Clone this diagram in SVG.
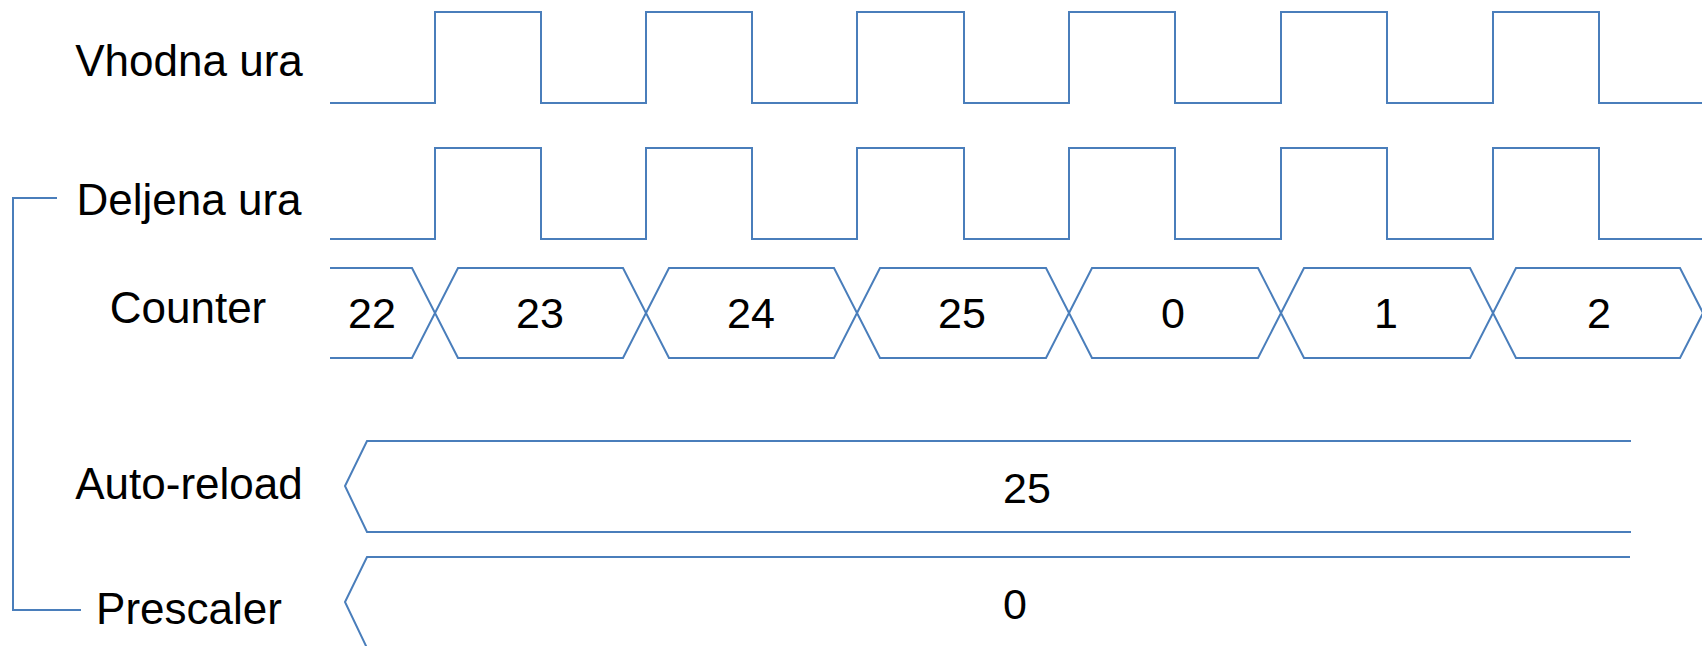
<svg xmlns="http://www.w3.org/2000/svg" width="1702" height="646" viewBox="0 0 1702 646">
<style>
.w{fill:none;stroke:#4A7EBB;stroke-width:2;stroke-linejoin:miter}
.lbl{font-family:"Liberation Sans",Arial,sans-serif;font-size:44px;fill:#000;text-anchor:middle}
.val{font-family:"Liberation Sans",Arial,sans-serif;font-size:43px;fill:#000;text-anchor:middle}
</style>
<rect width="1702" height="646" fill="#fff"/>
<g id="vhodna-ura">
<text class="lbl" x="189" y="76">Vhodna ura</text>
<path class="w" d="M330,103 H435 V12 H541 V103 H646 V12 H752 V103 H857 V12 H964 V103 H1069 V12 H1175 V103 H1281 V12 H1387 V103 H1493 V12 H1599 V103 H1702"/>
</g>
<g id="deljena-ura">
<text class="lbl" x="189" y="215">Deljena ura</text>
<path class="w" d="M330,239 H435 V148 H541 V239 H646 V148 H752 V239 H857 V148 H964 V239 H1069 V148 H1175 V239 H1281 V148 H1387 V239 H1493 V148 H1599 V239 H1702"/>
</g>
<g id="counter">
<text class="lbl" x="188" y="323">Counter</text>
<path class="w" d="M330,268 H412 L435,313 L412,358 H330"/>
<polygon class="w" points="435,313 458,268 623,268 646,313 623,358 458,358"/>
<polygon class="w" points="646,313 669,268 834,268 857,313 834,358 669,358"/>
<polygon class="w" points="857,313 880,268 1046,268 1069,313 1046,358 880,358"/>
<polygon class="w" points="1069,313 1092,268 1258,268 1281,313 1258,358 1092,358"/>
<polygon class="w" points="1281,313 1304,268 1470,268 1493,313 1470,358 1304,358"/>
<path class="w" d="M1703,313 L1680,268 H1516 L1493,313 L1516,358 H1680 L1703,313"/>
<text class="val" x="372" y="328">22</text>
<text class="val" x="540" y="328">23</text>
<text class="val" x="751" y="328">24</text>
<text class="val" x="962" y="328">25</text>
<text class="val" x="1173" y="328">0</text>
<text class="val" x="1386" y="328">1</text>
<text class="val" x="1599" y="328">2</text>
</g>
<g id="auto-reload">
<text class="lbl" x="189" y="499">Auto-reload</text>
<path class="w" d="M1631,441 H367 L345,486 L367,532 H1631"/>
<text class="val" x="1027" y="503">25</text>
</g>
<g id="prescaler">
<text class="lbl" x="189" y="624">Prescaler</text>
<path class="w" d="M1630,557 H367 L345,602 L367,648"/>
<text class="val" x="1015" y="619">0</text>
</g>
<g id="connectors">
<path class="w" d="M57,198 H13 V610 H81"/>
</g>
</svg>
